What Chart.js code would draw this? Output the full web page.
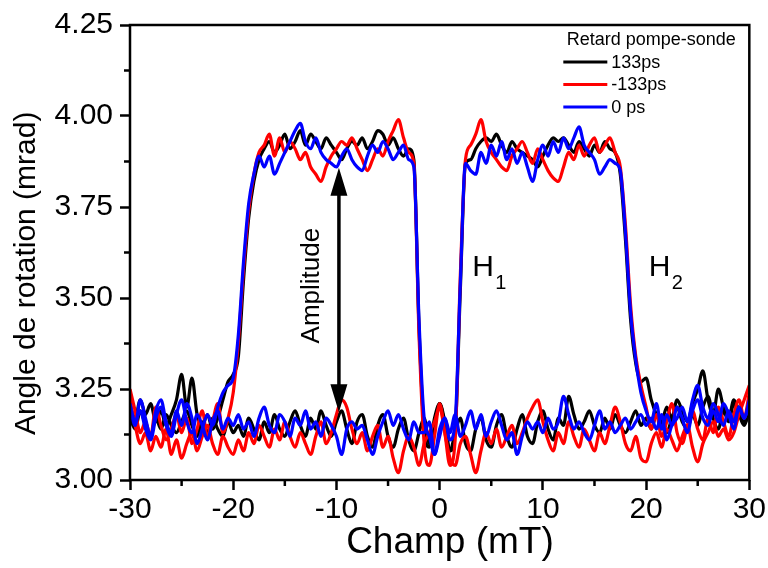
<!DOCTYPE html>
<html>
<head>
<meta charset="utf-8">
<script src="https://cdn.jsdelivr.net/npm/chart.js@4.4.0/dist/chart.umd.min.js"></script>
<style>
    html, body { margin: 0; padding: 0; background: #fff; }
</style>
</head>
<body>
<canvas id="loopChart" width="768" height="568"></canvas>
<script>
// champ (mT), pas de 0.5 mT
const champ = [
    -30, -29.5, -29, -28.5, -28, -27.5, -27, -26.5, -26, -25.5, -25, -24.5, -24, -23.5, -23, -22.5, -22, -21.5, -21, -20.5,
    -20, -19.5, -19, -18.5, -18, -17.5, -17, -16.5, -16, -15.5, -15, -14.5, -14, -13.5, -13, -12.5, -12, -11.5, -11, -10.5,
    -10, -9.5, -9, -8.5, -8, -7.5, -7, -6.5, -6, -5.5, -5, -4.5, -4, -3.5, -3, -2.5, -2, -1.5, -1, -0.5,
    0, 0.5, 1, 1.5, 2, 2.5, 3, 3.5, 4, 4.5, 5, 5.5, 6, 6.5, 7, 7.5, 8, 8.5, 9, 9.5,
    10, 10.5, 11, 11.5, 12, 12.5, 13, 13.5, 14, 14.5, 15, 15.5, 16, 16.5, 17, 17.5, 18, 18.5, 19, 19.5,
    20, 20.5, 21, 21.5, 22, 22.5, 23, 23.5, 24, 24.5, 25, 25.5, 26, 26.5, 27, 27.5, 28, 28.5, 29, 29.5,
    30
];

// branche avec plateaux (mrad)
const noirHaut = [
    3.20, 3.17, 3.22, 3.18, 3.21, 3.16, 3.19, 3.15, 3.18, 3.22, 3.29, 3.20, 3.28, 3.18, 3.15, 3.18, 3.14, 3.17, 3.22, 3.27, 3.29,
    3.34, 3.55, 3.72, 3.82, 3.88,
    3.91, 3.93, 3.90, 3.92, 3.95, 3.91, 3.93, 3.96, 3.92, 3.95, 3.93, 3.91, 3.94, 3.92, 3.90, 3.88, 3.91, 3.93, 3.92, 3.94, 3.91, 3.93, 3.96, 3.95, 3.92, 3.94, 3.91, 3.89, 3.91,
    3.88, 3.42, 3.14, 3.09, 3.17, 3.21, 3.16, 3.08, 3.13, 3.52, 3.87,
    3.88, 3.91, 3.93, 3.94, 3.93, 3.95, 3.92, 3.90, 3.93, 3.91, 3.90, 3.89, 3.88, 3.86, 3.89, 3.92, 3.94, 3.93, 3.94, 3.92, 3.90, 3.93, 3.91, 3.89, 3.92, 3.90, 3.93, 3.91, 3.90,
    3.84, 3.66, 3.44, 3.32, 3.27,
    3.28, 3.22, 3.18, 3.16, 3.20, 3.17, 3.22, 3.19, 3.16, 3.21, 3.25, 3.30, 3.22, 3.18, 3.25, 3.20, 3.17, 3.22, 3.19, 3.16, 3.20
];
const rougeHaut = [
    3.25, 3.19, 3.13, 3.16, 3.12, 3.20, 3.15, 3.11, 3.14, 3.18, 3.13, 3.17, 3.10, 3.14, 3.19, 3.12, 3.16, 3.21, 3.13, 3.17, 3.24,
    3.38, 3.58, 3.74, 3.84, 3.90,
    3.92, 3.95, 3.89, 3.94, 3.90, 3.93, 3.91, 3.88, 3.90, 3.86, 3.84, 3.82, 3.86, 3.89, 3.91, 3.93, 3.92, 3.94, 3.91, 3.88, 3.85, 3.88, 3.91, 3.89, 3.93, 3.96, 3.99, 3.94, 3.90,
    3.87, 3.40, 3.10, 3.04, 3.12, 3.21, 3.13, 3.04, 3.11, 3.56, 3.88,
    3.92, 3.95, 3.99, 3.93, 3.90, 3.88, 3.86, 3.85, 3.89, 3.91, 3.93, 3.90, 3.87, 3.91, 3.88, 3.85, 3.83, 3.82, 3.86, 3.90, 3.88, 3.92, 3.89, 3.92, 3.94, 3.90, 3.92, 3.94, 3.90,
    3.86, 3.70, 3.48, 3.34, 3.26,
    3.20, 3.14, 3.18, 3.12, 3.16, 3.21, 3.13, 3.10, 3.15, 3.19, 3.14, 3.11, 3.17, 3.13, 3.20, 3.16, 3.12, 3.18, 3.22, 3.17, 3.24
];
const bleuHaut = [
    3.20, 3.15, 3.22, 3.17, 3.12, 3.19, 3.22, 3.16, 3.13, 3.19, 3.15, 3.21, 3.17, 3.10, 3.14, 3.18, 3.15, 3.20, 3.24, 3.26, 3.28,
    3.40, 3.60, 3.76, 3.84, 3.89,
    3.86, 3.89, 3.84, 3.87, 3.90, 3.93, 3.96, 3.98, 3.93, 3.91, 3.94, 3.90, 3.88, 3.87, 3.86, 3.89, 3.91, 3.88, 3.86, 3.85, 3.89, 3.92, 3.90, 3.93, 3.91, 3.88, 3.90, 3.92, 3.88,
    3.86, 3.44, 3.17, 3.12, 3.07, 3.14, 3.17, 3.11, 3.16, 3.54, 3.87,
    3.85, 3.84, 3.90, 3.87, 3.92, 3.89, 3.93, 3.88, 3.91, 3.87, 3.90, 3.86, 3.82, 3.88, 3.92, 3.89, 3.93, 3.90, 3.94, 3.91, 3.94, 3.97, 3.92, 3.90, 3.88, 3.84, 3.86, 3.88, 3.87,
    3.85, 3.68, 3.46, 3.33, 3.24,
    3.19, 3.16, 3.21, 3.14, 3.18, 3.15, 3.20, 3.17, 3.13, 3.19, 3.22, 3.17, 3.15, 3.19, 3.16, 3.21, 3.18, 3.14, 3.20, 3.17, 3.22
];

// branche basse (mrad)
const noirBas = [
    3.17, 3.14, 3.19, 3.15, 3.12, 3.17, 3.14, 3.18, 3.15, 3.13, 3.16, 3.19, 3.15, 3.12, 3.16, 3.13, 3.17, 3.14, 3.12, 3.16, 3.13,
    3.15, 3.12, 3.17, 3.14, 3.11, 3.16, 3.13, 3.18, 3.14, 3.12, 3.16, 3.19, 3.15, 3.12, 3.17, 3.14, 3.19, 3.15, 3.12, 3.16,
    3.19, 3.14, 3.10, 3.16, 3.18, 3.12, 3.09, 3.15, 3.18, 3.12, 3.09, 3.14, 3.17, 3.11, 3.08, 3.13, 3.17, 3.10, 3.15, 3.21,
    3.15, 3.08, 3.13, 3.17, 3.10, 3.08, 3.14, 3.17, 3.11, 3.09, 3.15, 3.18, 3.12, 3.09, 3.14, 3.18, 3.12, 3.10, 3.16, 3.19,
    3.14, 3.11, 3.17, 3.15, 3.23, 3.18, 3.14, 3.16, 3.19, 3.15, 3.13, 3.17, 3.14, 3.18, 3.15, 3.13, 3.16, 3.19, 3.15, 3.17,
    3.14, 3.18, 3.15, 3.13, 3.17, 3.20, 3.16, 3.14, 3.18, 3.15, 3.20, 3.23, 3.17, 3.14, 3.19, 3.16, 3.21, 3.18, 3.15, 3.19
];
const rougeBas = [
    3.22, 3.15, 3.10, 3.13, 3.08, 3.12, 3.09, 3.14, 3.07, 3.11, 3.06, 3.10, 3.13, 3.08, 3.12, 3.15, 3.10, 3.07, 3.12, 3.09, 3.07,
    3.11, 3.08, 3.13, 3.10, 3.15, 3.12, 3.09, 3.14, 3.11, 3.16, 3.12, 3.09, 3.13, 3.10, 3.07, 3.12, 3.16, 3.10, 3.13, 3.18,
    3.22, 3.20, 3.14, 3.10, 3.13, 3.08, 3.12, 3.15, 3.09, 3.12, 3.06, 3.02, 3.08, 3.12, 3.09, 3.04, 3.10, 3.13, 3.16, 3.20,
    3.13, 3.06, 3.04, 3.10, 3.12, 3.07, 3.02, 3.08, 3.13, 3.10, 3.14, 3.09, 3.12, 3.15, 3.10, 3.13, 3.17, 3.20, 3.22, 3.16,
    3.11, 3.08, 3.13, 3.10, 3.16, 3.12, 3.09, 3.14, 3.11, 3.08, 3.13, 3.10, 3.15, 3.20, 3.16, 3.10, 3.08, 3.12, 3.06, 3.05,
    3.10, 3.13, 3.09, 3.14, 3.11, 3.08, 3.12, 3.15, 3.09, 3.05, 3.10, 3.13, 3.16, 3.12, 3.14, 3.11, 3.13, 3.18, 3.22, 3.26
];
const bleuBas = [
    3.21, 3.16, 3.19, 3.14, 3.11, 3.17, 3.20, 3.15, 3.12, 3.18, 3.22, 3.16, 3.13, 3.18, 3.15, 3.11, 3.16, 3.19, 3.14, 3.17, 3.15,
    3.18, 3.14, 3.16, 3.12, 3.17, 3.20, 3.15, 3.13, 3.18, 3.16, 3.12, 3.17, 3.15, 3.19, 3.14, 3.16, 3.12, 3.17, 3.15, 3.12,
    3.07, 3.14, 3.16, 3.14, 3.15, 3.11, 3.07, 3.12, 3.16, 3.19, 3.15, 3.18, 3.14, 3.11, 3.16, 3.13, 3.13, 3.16, 3.07, 3.12,
    3.17, 3.13, 3.18, 3.12, 3.15, 3.19, 3.14, 3.18, 3.12, 3.16, 3.19, 3.15, 3.11, 3.13, 3.07, 3.12, 3.16, 3.14, 3.16, 3.13,
    3.17, 3.14, 3.16, 3.23, 3.18, 3.14, 3.16, 3.13, 3.11, 3.15, 3.19, 3.14, 3.16, 3.13, 3.15, 3.17, 3.14, 3.16, 3.18, 3.15,
    3.17, 3.14, 3.18, 3.11, 3.15, 3.17, 3.20, 3.16, 3.22, 3.26, 3.20, 3.17, 3.21, 3.18, 3.15, 3.19, 3.16, 3.20, 3.17, 3.21
];

const retards = ['133ps', '-133ps', '0 ps'];
const couleurs = ['#000000', '#ff0000', '#0000ff'];
const xMineurs = [-25, -15, -5, 5, 15, 25];
const yMineurs = [3.125, 3.375, 3.625, 3.875, 4.125];

const police = '"Liberation Sans", Arial, sans-serif';

function points(valeurs) {
    return champ.map((x, i) => ({ x: x, y: valeurs[i] }));
}

function courbe(label, valeurs, couleur, ordre) {
    return {
        label: label,
        data: points(valeurs),
        borderColor: couleur,
        backgroundColor: couleur,
        borderWidth: 3.2,
        pointRadius: 0,
        cubicInterpolationMode: 'monotone',
        fill: false,
        order: ordre
    };
}

// cadre, petites graduations, légende et annotations
const decor = {
    id: 'decor',
    afterDatasetsDraw(chart) {
        const { ctx, chartArea: a, scales: { x, y } } = chart;
        ctx.save();
        ctx.strokeStyle = '#000';
        ctx.lineWidth = 2.5;
        ctx.beginPath();
        xMineurs.forEach(v => {
            const px = x.getPixelForValue(v);
            ctx.moveTo(px, a.bottom);
            ctx.lineTo(px, a.bottom + 6);
        });
        yMineurs.forEach(v => {
            const py = y.getPixelForValue(v);
            ctx.moveTo(a.left, py);
            ctx.lineTo(a.left - 6, py);
        });
        ctx.stroke();
        ctx.strokeRect(a.left, a.top, a.right - a.left, a.bottom - a.top);

        // légende
        ctx.fillStyle = '#000';
        ctx.font = '18px ' + police;
        ctx.textAlign = 'center';
        ctx.textBaseline = 'middle';
        ctx.fillText('Retard pompe-sonde', a.right - 98, a.top + 15);
        ctx.textAlign = 'left';
        retards.forEach((r, i) => {
            const ly = a.top + 37 + i * 22.5;
            ctx.strokeStyle = couleurs[i];
            ctx.lineWidth = 3;
            ctx.beginPath();
            ctx.moveTo(a.right - 186, ly);
            ctx.lineTo(a.right - 142, ly);
            ctx.stroke();
            ctx.fillText(r, a.right - 138, ly + 1);
        });

        // flèche "Amplitude"
        const ax = x.getPixelForValue(-9.76);
        const yHaut = y.getPixelForValue(3.858);
        const yBas = y.getPixelForValue(3.186);
        ctx.strokeStyle = '#000';
        ctx.lineWidth = 3.5;
        ctx.beginPath();
        ctx.moveTo(ax, yHaut + 20);
        ctx.lineTo(ax, yBas - 20);
        ctx.stroke();
        ctx.beginPath();
        ctx.moveTo(ax, yHaut);
        ctx.lineTo(ax - 8.5, yHaut + 28);
        ctx.lineTo(ax + 8.5, yHaut + 28);
        ctx.closePath();
        ctx.moveTo(ax, yBas);
        ctx.lineTo(ax - 8.5, yBas - 28);
        ctx.lineTo(ax + 8.5, yBas - 28);
        ctx.closePath();
        ctx.fill();

        ctx.save();
        ctx.translate(x.getPixelForValue(-12.37), y.getPixelForValue(3.534));
        ctx.rotate(-Math.PI / 2);
        ctx.font = '26px ' + police;
        ctx.textAlign = 'center';
        ctx.textBaseline = 'middle';
        ctx.fillText('Amplitude', 0, 0);
        ctx.restore();

        // H1 et H2
        ctx.textAlign = 'left';
        ctx.textBaseline = 'alphabetic';
        [['1', 3.15], ['2', 20.25]].forEach(([n, v]) => {
            const hx = x.getPixelForValue(v);
            const hy = y.getPixelForValue(3.56);
            ctx.font = '30px ' + police;
            ctx.fillText('H', hx, hy);
            ctx.font = '20px ' + police;
            ctx.fillText(n, hx + 23, hy + 13);
        });
        ctx.restore();
    }
};

function renderLoopChart() {
    new Chart(document.getElementById('loopChart'), {
        type: 'line',
        data: {
            datasets: [
                courbe(retards[0], noirHaut, couleurs[0], 2),
                courbe(retards[1], rougeHaut, couleurs[1], 1),
                courbe(retards[2], bleuHaut, couleurs[2], 0),
                courbe(retards[0], noirBas, couleurs[0], 2),
                courbe(retards[1], rougeBas, couleurs[1], 1),
                courbe(retards[2], bleuBas, couleurs[2], 0)
            ]
        },
        options: {
            responsive: false,
            maintainAspectRatio: false,
            animation: false,
            layout: { padding: { top: 21, right: 17, left: 0, bottom: 0 } },
            plugins: {
                legend: { display: false },
                tooltip: { enabled: false }
            },
            scales: {
                x: {
                    type: 'linear',
                    min: -30,
                    max: 30,
                    afterFit: (scale) => { scale.height = 88; },
                    border: { display: false },
                    grid: {
                        drawOnChartArea: false,
                        drawTicks: true,
                        tickLength: 10,
                        tickWidth: 2.5,
                        tickColor: '#000'
                    },
                    ticks: {
                        stepSize: 10,
                        padding: 2,
                        color: '#000',
                        font: { family: police, size: 30 }
                    },
                    title: {
                        display: true,
                        text: '\u00a0\u00a0Champ (mT)',
                        color: '#000',
                        font: { family: police, size: 37 },
                        padding: { top: 0, bottom: 3 }
                    }
                },
                y: {
                    type: 'linear',
                    min: 3.0,
                    max: 4.25,
                    afterFit: (scale) => { scale.width = 130; },
                    border: { display: false },
                    grid: {
                        drawOnChartArea: false,
                        drawTicks: true,
                        tickLength: 10,
                        tickWidth: 2.5,
                        tickColor: '#000'
                    },
                    ticks: {
                        stepSize: 0.25,
                        padding: 7,
                        color: '#000',
                        font: { family: police, size: 30 },
                        callback: (v) => v.toFixed(2)
                    },
                    title: {
                        display: true,
                        text: 'Angle de rotation (mrad)\u00a0\u00a0\u00a0\u00a0\u00a0',
                        color: '#000',
                        font: { family: police, size: 30 },
                        padding: { top: 9, bottom: 0 }
                    }
                }
            }
        },
        plugins: [decor]
    });
}

document.addEventListener('DOMContentLoaded', () => {
    renderLoopChart();
});
</script>
</body>
</html>
